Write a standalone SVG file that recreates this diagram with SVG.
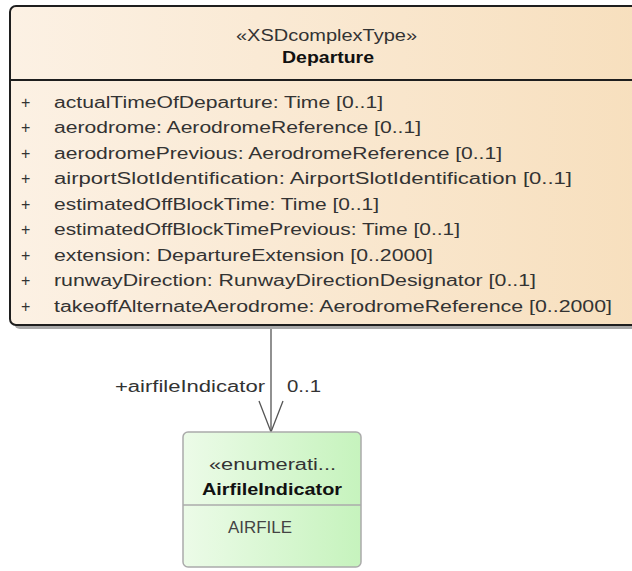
<svg xmlns="http://www.w3.org/2000/svg" width="632" height="571" viewBox="0 0 632 571">
<defs>
<linearGradient id="gOrange" x1="0" y1="0" x2="1" y2="0">
<stop offset="0" stop-color="#fcf1e4"/>
<stop offset="1" stop-color="#f7dfbd"/>
</linearGradient>
<linearGradient id="gGreen" x1="0" y1="0" x2="1" y2="0">
<stop offset="0" stop-color="#ecfbe8"/>
<stop offset="1" stop-color="#c6f3bd"/>
</linearGradient>
</defs>
<style>
text { font-family: "Liberation Sans", Arial, sans-serif; fill: #333; font-size: 16px; }
.b { font-weight: bold; fill: #111; }
.attr { fill: #3a3a3a; }
.conn { fill: none; stroke: #555; stroke-width: 1.3; }
</style>
<rect width="632" height="571" fill="#ffffff"/>
<g id="connectors">
<line class="conn" x1="271" y1="325" x2="271" y2="432"/>
<path class="conn" d="M259,401 L271,432 L283,401"/>
<text x="115" y="391.5" textLength="150" lengthAdjust="spacingAndGlyphs">+airfileIndicator</text>
<text x="287" y="391.5" textLength="34" lengthAdjust="spacingAndGlyphs">0..1</text>
</g>
<g id="Departure">
<rect x="14" y="10" width="640" height="319" rx="6" fill="#a8a8a8"/>
<rect x="10" y="6" width="640" height="319" rx="6" fill="url(#gOrange)" stroke="#1e1e1e" stroke-width="2"/>
<line x1="10" y1="80" x2="650" y2="80" stroke="#1e1e1e" stroke-width="2"/>
<text x="236" y="40.5" textLength="181" lengthAdjust="spacingAndGlyphs">«XSDcomplexType»</text>
<text class="b" x="282" y="62.5" textLength="92" lengthAdjust="spacingAndGlyphs">Departure</text>
<g class="attr">
<text x="21" y="107.5">+</text><text x="54" y="107.5" textLength="329" lengthAdjust="spacingAndGlyphs">actualTimeOfDeparture: Time [0..1]</text>
<text x="21" y="133">+</text><text x="54" y="133" textLength="367" lengthAdjust="spacingAndGlyphs">aerodrome: AerodromeReference [0..1]</text>
<text x="21" y="158.5">+</text><text x="54" y="158.5" textLength="448" lengthAdjust="spacingAndGlyphs">aerodromePrevious: AerodromeReference [0..1]</text>
<text x="21" y="184">+</text><text x="54" y="184" textLength="518" lengthAdjust="spacingAndGlyphs">airportSlotIdentification: AirportSlotIdentification [0..1]</text>
<text x="21" y="209.5">+</text><text x="54" y="209.5" textLength="325" lengthAdjust="spacingAndGlyphs">estimatedOffBlockTime: Time [0..1]</text>
<text x="21" y="235">+</text><text x="54" y="235" textLength="406" lengthAdjust="spacingAndGlyphs">estimatedOffBlockTimePrevious: Time [0..1]</text>
<text x="21" y="260.5">+</text><text x="54" y="260.5" textLength="379" lengthAdjust="spacingAndGlyphs">extension: DepartureExtension [0..2000]</text>
<text x="21" y="286">+</text><text x="54" y="286" textLength="482" lengthAdjust="spacingAndGlyphs">runwayDirection: RunwayDirectionDesignator [0..1]</text>
<text x="21" y="311.5">+</text><text x="54" y="311.5" textLength="558" lengthAdjust="spacingAndGlyphs">takeoffAlternateAerodrome: AerodromeReference [0..2000]</text>
</g>
</g>
<g id="AirfileIndicator">
<rect x="183" y="432" width="178" height="135" rx="5" fill="url(#gGreen)" stroke="#ababab" stroke-width="1.5"/>
<line x1="183" y1="505" x2="361" y2="505" stroke="#ababab" stroke-width="1.3"/>
<text x="209" y="470" textLength="127" lengthAdjust="spacingAndGlyphs">«enumerati...</text>
<text class="b" x="202" y="495" textLength="140" lengthAdjust="spacingAndGlyphs">AirfileIndicator</text>
<text x="228" y="533" textLength="64" lengthAdjust="spacingAndGlyphs" style="fill:#444">AIRFILE</text>
</g>
</svg>
